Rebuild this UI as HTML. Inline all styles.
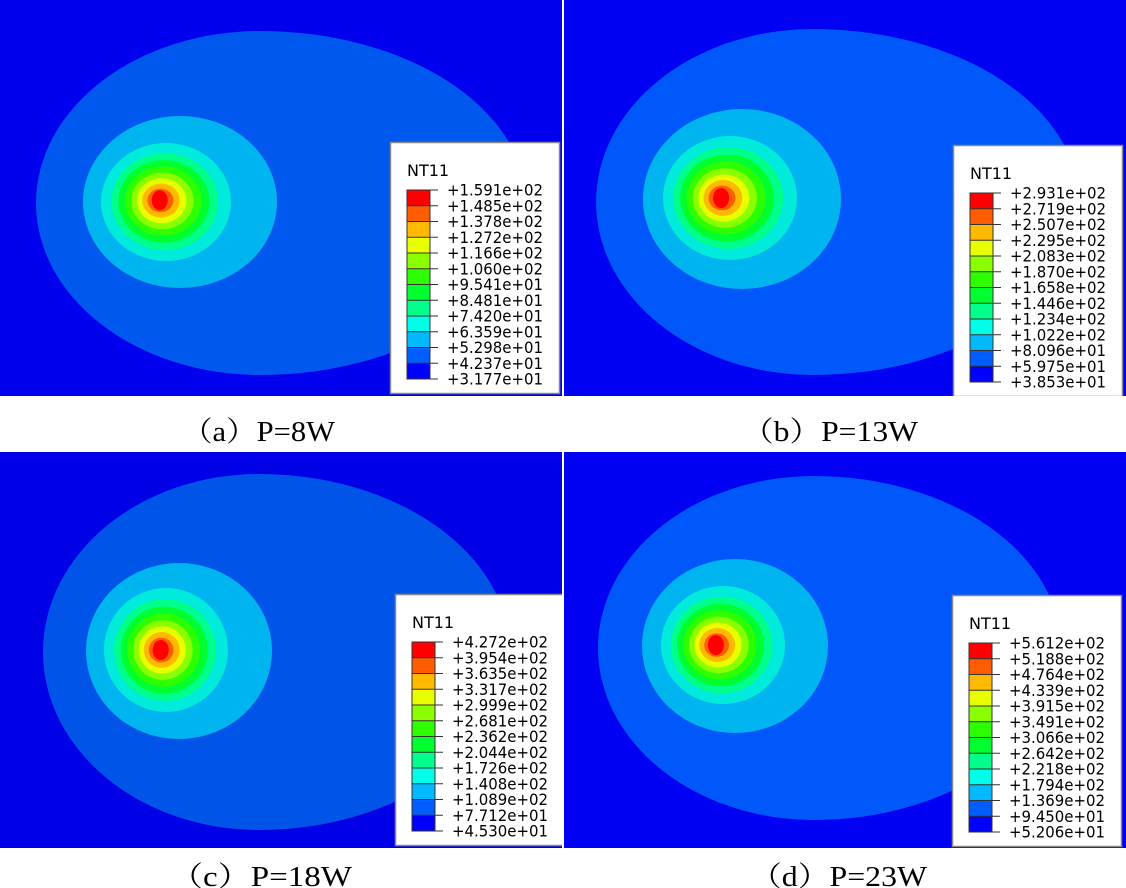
<!DOCTYPE html>
<html><head><meta charset="utf-8"><style>html,body{margin:0;padding:0;background:#fff;}svg{display:block}</style></head>
<body>
<svg id="s" width="1126" height="888" viewBox="0 0 1126 888" xmlns="http://www.w3.org/2000/svg">
<rect width="1126" height="888" fill="#fff"/>
<g id="shapes"></g>
<g font-family="Liberation Serif, Noto Serif CJK SC, serif" font-size="28" fill="#000">
<text x="182" y="441" textLength="153" lengthAdjust="spacingAndGlyphs">（a）P=8W</text>
<text x="742" y="441" textLength="176" lengthAdjust="spacingAndGlyphs">（b）P=13W</text>
<text x="170" y="886" textLength="182" lengthAdjust="spacingAndGlyphs">（c）P=18W</text>
<text x="750" y="886" textLength="177" lengthAdjust="spacingAndGlyphs">（d）P=23W</text>
</g>
<g font-family="DejaVu Sans, sans-serif" font-size="16" fill="#000">
<g transform="translate(390,142)">
<text x="17" y="34">NT11</text>
<text x="57" y="53.5" textLength="96" lengthAdjust="spacingAndGlyphs">+1.591e+02</text><text x="57" y="69.3" textLength="96" lengthAdjust="spacingAndGlyphs">+1.485e+02</text><text x="57" y="85" textLength="96" lengthAdjust="spacingAndGlyphs">+1.378e+02</text><text x="57" y="100.8" textLength="96" lengthAdjust="spacingAndGlyphs">+1.272e+02</text><text x="57" y="116.5" textLength="96" lengthAdjust="spacingAndGlyphs">+1.166e+02</text><text x="57" y="132.3" textLength="96" lengthAdjust="spacingAndGlyphs">+1.060e+02</text><text x="57" y="148" textLength="96" lengthAdjust="spacingAndGlyphs">+9.541e+01</text><text x="57" y="163.8" textLength="96" lengthAdjust="spacingAndGlyphs">+8.481e+01</text><text x="57" y="179.5" textLength="96" lengthAdjust="spacingAndGlyphs">+7.420e+01</text><text x="57" y="195.3" textLength="96" lengthAdjust="spacingAndGlyphs">+6.359e+01</text><text x="57" y="211" textLength="96" lengthAdjust="spacingAndGlyphs">+5.298e+01</text><text x="57" y="226.8" textLength="96" lengthAdjust="spacingAndGlyphs">+4.237e+01</text><text x="57" y="242.5" textLength="96" lengthAdjust="spacingAndGlyphs">+3.177e+01</text>
</g>
<g transform="translate(953,145)">
<text x="17" y="34">NT11</text>
<text x="57" y="53.5" textLength="96" lengthAdjust="spacingAndGlyphs">+2.931e+02</text><text x="57" y="69.3" textLength="96" lengthAdjust="spacingAndGlyphs">+2.719e+02</text><text x="57" y="85" textLength="96" lengthAdjust="spacingAndGlyphs">+2.507e+02</text><text x="57" y="100.8" textLength="96" lengthAdjust="spacingAndGlyphs">+2.295e+02</text><text x="57" y="116.5" textLength="96" lengthAdjust="spacingAndGlyphs">+2.083e+02</text><text x="57" y="132.3" textLength="96" lengthAdjust="spacingAndGlyphs">+1.870e+02</text><text x="57" y="148" textLength="96" lengthAdjust="spacingAndGlyphs">+1.658e+02</text><text x="57" y="163.8" textLength="96" lengthAdjust="spacingAndGlyphs">+1.446e+02</text><text x="57" y="179.5" textLength="96" lengthAdjust="spacingAndGlyphs">+1.234e+02</text><text x="57" y="195.3" textLength="96" lengthAdjust="spacingAndGlyphs">+1.022e+02</text><text x="57" y="211" textLength="96" lengthAdjust="spacingAndGlyphs">+8.096e+01</text><text x="57" y="226.8" textLength="96" lengthAdjust="spacingAndGlyphs">+5.975e+01</text><text x="57" y="242.5" textLength="96" lengthAdjust="spacingAndGlyphs">+3.853e+01</text>
</g>
<g transform="translate(395,594)">
<text x="17" y="34">NT11</text>
<text x="57" y="53.5" textLength="96" lengthAdjust="spacingAndGlyphs">+4.272e+02</text><text x="57" y="69.3" textLength="96" lengthAdjust="spacingAndGlyphs">+3.954e+02</text><text x="57" y="85" textLength="96" lengthAdjust="spacingAndGlyphs">+3.635e+02</text><text x="57" y="100.8" textLength="96" lengthAdjust="spacingAndGlyphs">+3.317e+02</text><text x="57" y="116.5" textLength="96" lengthAdjust="spacingAndGlyphs">+2.999e+02</text><text x="57" y="132.3" textLength="96" lengthAdjust="spacingAndGlyphs">+2.681e+02</text><text x="57" y="148" textLength="96" lengthAdjust="spacingAndGlyphs">+2.362e+02</text><text x="57" y="163.8" textLength="96" lengthAdjust="spacingAndGlyphs">+2.044e+02</text><text x="57" y="179.5" textLength="96" lengthAdjust="spacingAndGlyphs">+1.726e+02</text><text x="57" y="195.3" textLength="96" lengthAdjust="spacingAndGlyphs">+1.408e+02</text><text x="57" y="211" textLength="96" lengthAdjust="spacingAndGlyphs">+1.089e+02</text><text x="57" y="226.8" textLength="96" lengthAdjust="spacingAndGlyphs">+7.712e+01</text><text x="57" y="242.5" textLength="96" lengthAdjust="spacingAndGlyphs">+4.530e+01</text>
</g>
<g transform="translate(952,595)">
<text x="17" y="34">NT11</text>
<text x="57" y="53.5" textLength="96" lengthAdjust="spacingAndGlyphs">+5.612e+02</text><text x="57" y="69.3" textLength="96" lengthAdjust="spacingAndGlyphs">+5.188e+02</text><text x="57" y="85" textLength="96" lengthAdjust="spacingAndGlyphs">+4.764e+02</text><text x="57" y="100.8" textLength="96" lengthAdjust="spacingAndGlyphs">+4.339e+02</text><text x="57" y="116.5" textLength="96" lengthAdjust="spacingAndGlyphs">+3.915e+02</text><text x="57" y="132.3" textLength="96" lengthAdjust="spacingAndGlyphs">+3.491e+02</text><text x="57" y="148" textLength="96" lengthAdjust="spacingAndGlyphs">+3.066e+02</text><text x="57" y="163.8" textLength="96" lengthAdjust="spacingAndGlyphs">+2.642e+02</text><text x="57" y="179.5" textLength="96" lengthAdjust="spacingAndGlyphs">+2.218e+02</text><text x="57" y="195.3" textLength="96" lengthAdjust="spacingAndGlyphs">+1.794e+02</text><text x="57" y="211" textLength="96" lengthAdjust="spacingAndGlyphs">+1.369e+02</text><text x="57" y="226.8" textLength="96" lengthAdjust="spacingAndGlyphs">+9.450e+01</text><text x="57" y="242.5" textLength="96" lengthAdjust="spacingAndGlyphs">+5.206e+01</text>
</g>
</g>
</svg>
<script>
(function(){
var NS="http://www.w3.org/2000/svg",g=document.getElementById('shapes'),svg=document.getElementById('s');
function el(t,a,p){var e=document.createElementNS(NS,t);for(var k in a)e.setAttribute(k,a[k]);(p||g).appendChild(e);return e;}
var inner=['#00ff8b','#00ff2e','#2eff00','#8bff00','#e8ff00','#ffb900','#ff5d00','#ff0000'];
var radii=[0.82,0.70,0.59,0.48,0.38,0.29,0.20,0.11];
var panels=[
 {x:0,y:0,w:562,h:396,bg:'#0000ee',oc:'#0058ee',o:[260,203,224,266,172],b:[180,202,97,86],c:[166,202,65,59],r:[159,200],L:[390,142]},
 {x:564,y:0,w:562,h:396,bg:'#0000f2',oc:'#0058fa',o:[813,202,217,266,173],b:[742,199,99,90],c:[730,198,67,62],r:[720,198],L:[953,145]},
 {x:0,y:452,w:562,h:396,bg:'#0000e6',oc:'#0055e8',o:[259,652,216,251,178],b:[179,651,93,88],c:[166,650,62,62],r:[160,650],L:[395,594]},
 {x:564,y:452,w:562,h:396,bg:'#0000f2',oc:'#0058fa',o:[814,648,216,247,172],b:[735,646,93,87],c:[723,645,62,59],r:[715,645],L:[952,595]}
];
panels.forEach(function(p,i){
 var cp=el('clipPath',{id:'cp'+i});el('rect',{x:p.x,y:p.y,width:p.w,height:p.h},cp);
 var gg=el('g',{'clip-path':'url(#cp'+i+')'});
 el('rect',{x:p.x,y:p.y,width:p.w,height:p.h,fill:p.bg},gg);
 var o=p.o;
 el('path',{d:'M'+o[0]+','+(o[1]-o[4])+' A'+o[3]+','+o[4]+' 0 0 1 '+o[0]+','+(o[1]+o[4])+' A'+o[2]+','+o[4]+' 0 0 1 '+o[0]+','+(o[1]-o[4])+'Z',fill:p.oc},gg);
 el('ellipse',{cx:p.b[0],cy:p.b[1],rx:p.b[2],ry:p.b[3],fill:'#00b4f0'},gg);
 el('ellipse',{cx:p.c[0],cy:p.c[1],rx:p.c[2],ry:p.c[3],fill:'#00ebdc'},gg);
 for(var k=0;k<inner.length;k++){
  var f=radii[k],t=1-f;
  var rx=p.c[2]*f, ry=p.c[3]*f;
  if(k==inner.length-1){rx=8;ry=10;}
  var cx=p.c[0]+(p.r[0]-p.c[0])*t, cy=p.c[1]+(p.r[1]-p.c[1])*t;
  el('ellipse',{cx:cx,cy:cy,rx:rx,ry:ry,fill:inner[k]},gg);
 }
 var L=p.L,lg=el('g',{transform:'translate('+L[0]+','+L[1]+')'},gg);
 el('rect',{x:0.5,y:0.5,width:169,height:251,fill:'#fff',stroke:'#888','stroke-width':1.5},lg);
 var cols=['#ff0000','#ff5d00','#ffb900','#e8ff00','#8bff00','#2eff00','#00ff2e','#00ff8b','#00ffe8','#00b9ff','#005dff','#0000ff'];
 for(var j=0;j<12;j++){
  el('rect',{x:17,y:48+j*15.75,width:23,height:15.75,fill:cols[j]},lg);
 }
 el('rect',{x:17,y:48,width:23,height:189,fill:'none',stroke:'#333','stroke-width':1},lg);
 for(var j=0;j<13;j++){
  var yy=48+j*15.75;
  el('line',{x1:17,y1:yy,x2:48,y2:yy,stroke:'#333','stroke-width':1},lg);
 }
});
var texts=svg.querySelectorAll('svg > g:not(#shapes)');
texts.forEach(function(t){svg.appendChild(t);});
})();
</script>
</body></html>
